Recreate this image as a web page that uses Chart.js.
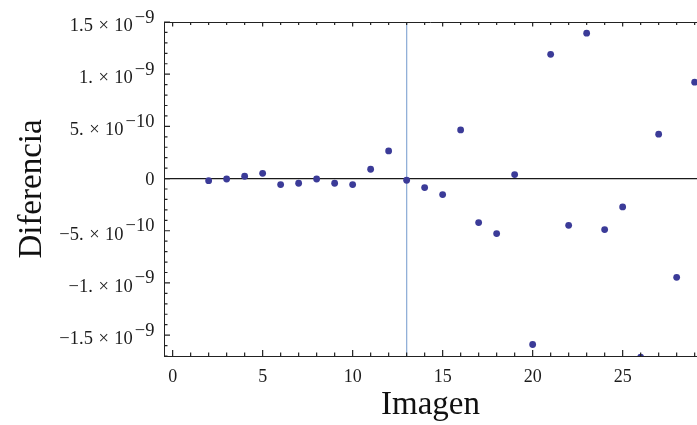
<!DOCTYPE html>
<html>
<head>
<meta charset="utf-8">
<script src="https://cdn.jsdelivr.net/npm/chart.js@4/dist/chart.umd.min.js"></script>
<style>
  html, body { margin: 0; padding: 0; background: #fff; }
  #wrap { width: 697px; height: 425px; }
  canvas { display: block; }
</style>
</head>
<body>
<div id="wrap"><canvas id="chart" width="697" height="425"></canvas></div>
<script>
// Image index and the measured difference for each image
const imagen = [2, 3, 4, 5, 6, 7, 8, 9, 10, 11, 12, 13, 14, 15, 16, 17, 18, 19, 20, 21, 22, 23, 24, 25, 26, 27, 28, 29];
const diferencia = [
  -0.020e-9, -0.004e-9, 0.022e-9, 0.050e-9, -0.058e-9, -0.045e-9, -0.004e-9, -0.045e-9,
  -0.058e-9, 0.089e-9, 0.265e-9, -0.016e-9, -0.086e-9, -0.153e-9, 0.466e-9, -0.422e-9,
  -0.527e-9, 0.038e-9, -1.590e-9, 1.190e-9, -0.448e-9, 1.393e-9, -0.489e-9, -0.272e-9,
  -1.710e-9, 0.425e-9, -0.946e-9, 0.923e-9
];

// Tick labels
const xTickValues = [0, 5, 10, 15, 20, 25];
const yTickValues = [-1.5e-9, -1e-9, -5e-10, 0, 5e-10, 1e-9, 1.5e-9];
const yTickMantissa = ['\u22121.5', '\u22121.', '\u22125.', '0', '5.', '1.', '1.5'];
const yTickExponent = ['\u22129', '\u22129', '\u221210', '', '\u221210', '\u22129', '\u22129'];

// Reference image marked with a vertical rule
const markedImage = 13;

const SERIF = "'Liberation Serif', 'Times New Roman', serif";
const TEXT = '#1c1c1c';

const framePlugin = {
  id: 'frame',
  beforeDatasetsDraw(chart) {
    const { ctx, chartArea: a, scales: { x, y } } = chart;
    ctx.save();
    // zero line
    const y0 = y.getPixelForValue(0);
    ctx.strokeStyle = '#1a1a1a';
    ctx.lineWidth = 1.3;
    ctx.beginPath();
    ctx.moveTo(a.left, y0);
    ctx.lineTo(a.right, y0);
    ctx.stroke();
    // vertical rule
    const xm = x.getPixelForValue(markedImage);
    ctx.strokeStyle = '#92b0d8';
    ctx.lineWidth = 1.3;
    ctx.beginPath();
    ctx.moveTo(xm, a.top);
    ctx.lineTo(xm, a.bottom);
    ctx.stroke();
    ctx.restore();
  },
  afterDraw(chart) {
    const { ctx, chartArea: a, scales: { x, y } } = chart;
    ctx.save();
    ctx.strokeStyle = '#222';
    ctx.lineWidth = 1;
    // top frame
    ctx.beginPath();
    ctx.moveTo(a.left, a.top + 0.5);
    ctx.lineTo(a.right, a.top + 0.5);
    ctx.stroke();

    // inward ticks on the left frame
    ctx.lineWidth = 1.2;
    ctx.beginPath();
    for (let k = -17; k <= 15; k++) {
      const py = y.getPixelForValue(k * 1e-10);
      if (py < a.top - 0.5 || py > a.bottom + 0.5) continue;
      const len = k % 5 === 0 ? 6 : 3.5;
      ctx.moveTo(a.left, py);
      ctx.lineTo(a.left + len, py);
    }
    // inward ticks on bottom and top frames
    for (let k = 0; k <= 29; k++) {
      const px = x.getPixelForValue(k);
      if (px > a.right) continue;
      const major = k % 5 === 0;
      const lb = major ? 6 : 3.5;
      const lt = major ? 4.5 : 3;
      ctx.moveTo(px, a.bottom);
      ctx.lineTo(px, a.bottom - lb);
      ctx.moveTo(px, a.top);
      ctx.lineTo(px, a.top + lt);
    }
    ctx.stroke();

    // y tick labels in scientific form
    const mainFont = '18.5px ' + SERIF;
    ctx.fillStyle = TEXT;
    ctx.textBaseline = 'alphabetic';
    ctx.textAlign = 'left';
    const rightEdge = a.left - 9.5;
    const gap = 5.5;
    yTickValues.forEach((v, i) => {
      const py = y.getPixelForValue(v);
      const m = yTickMantissa[i];
      const e = yTickExponent[i];
      ctx.font = mainFont;
      if (!e) {
        const w = ctx.measureText(m).width;
        ctx.fillText(m, rightEdge - w, py + 6);
        return;
      }
      const wm = ctx.measureText(m).width;
      const wx = ctx.measureText('\u00d7').width;
      const wt = ctx.measureText('10').width;
      const we = ctx.measureText(e).width;
      const total = wm + gap + wx + gap + wt + 2 + we;
      let cx = rightEdge - total;
      const base = py + 9;
      ctx.fillText(m, cx, base); cx += wm + gap;
      ctx.fillText('\u00d7', cx, base); cx += wx + gap;
      ctx.fillText('10', cx, base); cx += wt + 2;
      ctx.fillText(e, cx, base - 8.5);
    });
    ctx.restore();
  }
};

new Chart(document.getElementById('chart'), {
  type: 'scatter',
  data: {
    datasets: [{
      data: imagen.map((v, i) => ({ x: v, y: diferencia[i] })),
      backgroundColor: '#3b3b98',
      borderWidth: 0,
      pointRadius: 3.4,
      pointHoverRadius: 3.4,
      clip: 0
    }]
  },
  options: {
    responsive: false,
    devicePixelRatio: 1,
    animation: false,
    events: [],
    layout: { autoPadding: false, padding: { top: 22, left: 0, right: 0, bottom: 0 } },
    plugins: { legend: { display: false }, tooltip: { enabled: false } },
    scales: {
      x: {
        type: 'linear',
        min: -0.48,
        max: 29.13,
        afterBuildTicks: s => { s.ticks = xTickValues.map(v => ({ value: v })); },
        afterFit: s => { s.height = 69; },
        grid: { display: false },
        border: { display: true, color: '#222', width: 1 },
        ticks: {
          font: { family: SERIF, size: 18 },
          color: TEXT,
          padding: 2,
          maxRotation: 0,
          autoSkip: false,
          callback: v => String(v)
        },
        title: {
          display: true,
          text: 'Imagen',
          font: { family: SERIF, size: 33 },
          color: '#111',
          padding: { top: 0, bottom: 0 }
        }
      },
      y: {
        type: 'linear',
        min: -1.7e-9,
        max: 1.5e-9,
        afterBuildTicks: s => { s.ticks = yTickValues.map(v => ({ value: v })); },
        afterFit: s => { s.width = 164; },
        grid: { display: false },
        border: { display: true, color: '#222', width: 1 },
        ticks: { display: false },
        title: {
          display: true,
          text: 'Diferencia',
          font: { family: SERIF, size: 33 },
          color: '#111',
          padding: { top: 12.5, bottom: 0 }
        }
      }
    }
  },
  plugins: [framePlugin]
});
</script>
</body>
</html>
